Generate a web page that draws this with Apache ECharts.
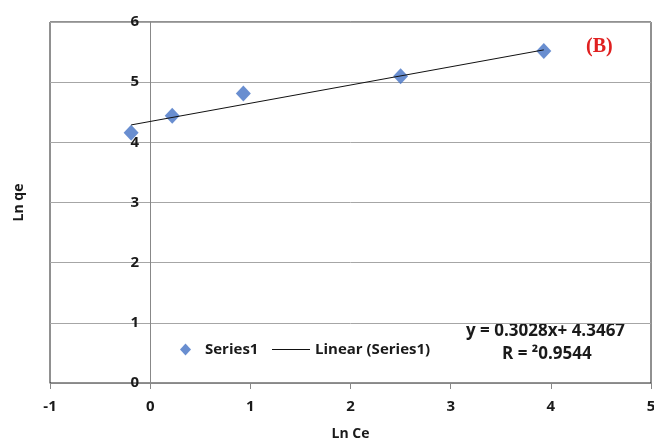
<!DOCTYPE html>
<html>
<head>
<meta charset="utf-8">
<script src="https://cdn.jsdelivr.net/npm/echarts@6/dist/echarts.min.js"></script>
<style>
html,body{margin:0;padding:0;background:#fff;}
#chart{width:654px;height:443px;}
</style>
</head>
<body>
<div id="chart"></div>
<script>
// Data
const lnCe = [-0.19, 0.22, 0.93, 2.50, 3.93];
const lnQe = [4.16, 4.44, 4.81, 5.10, 5.52];
const xTicks = [-1, 0, 1, 2, 3, 4, 5];
const yTicks = [0, 1, 2, 3, 4, 5, 6];
const trendSlope = 0.3028;
const trendIntercept = 4.3467;
const rSquared = '0.9544';

const points = lnCe.map((x, i) => [x, lnQe[i]]);
const xMinD = Math.min(...lnCe), xMaxD = Math.max(...lnCe);
const trend = [[xMinD, trendSlope * xMinD + trendIntercept], [xMaxD, trendSlope * xMaxD + trendIntercept]];

const FONT = '"Open Sans", "Liberation Sans", sans-serif';
const chart = echarts.init(document.getElementById('chart'));
chart.setOption({
  animation: false,
  backgroundColor: '#fff',
  grid: { left: 50, right: 3, top: 22, bottom: 60, containLabel: false, outerBoundsMode: 'none',
          show: true, borderColor: '#222', borderWidth: 1 },
  xAxis: {
    type: 'value', min: xTicks[0], max: xTicks[xTicks.length - 1], interval: 1,
    name: 'Ln Ce', nameLocation: 'middle', nameGap: 44,
    nameTextStyle: { fontFamily: FONT, fontWeight: 'bold', fontSize: 14, color: '#1a1a1a' },
    axisLine: { onZero: false, lineStyle: { color: '#888', width: 1 } },
    axisTick: { show: true, length: 6, lineStyle: { color: '#888' } },
    axisLabel: { fontFamily: FONT, fontWeight: 'bold', fontSize: 15, color: '#1a1a1a', margin: 16 },
    splitLine: { show: false }
  },
  yAxis: {
    type: 'value', min: yTicks[0], max: yTicks[yTicks.length - 1], interval: 1,
    name: 'Ln qe', nameLocation: 'middle', nameGap: 24, nameRotate: 90,
    nameTextStyle: { fontFamily: FONT, fontWeight: 'bold', fontSize: 14, color: '#1a1a1a' },
    axisLine: { show: true, onZero: true, lineStyle: { color: '#888', width: 1 } },
    axisTick: { show: false },
    axisLabel: { fontFamily: FONT, fontWeight: 'bold', fontSize: 15, color: '#1a1a1a', margin: -89 },
    splitLine: { show: true, lineStyle: { color: '#a6a6a6', width: 1 } }
  },
  legend: [
    {
      left: 180, top: 342, padding: 0, itemWidth: 11, itemHeight: 12, itemGap: 8,
      textStyle: { fontFamily: FONT, fontWeight: 'bold', fontSize: 15, color: '#1a1a1a', padding: [0, 0, 0, 9] },
      data: [{ name: 'Series1', icon: 'diamond', itemStyle: { color: '#4472c4' } }]
    },
    {
      left: 272, top: 342, padding: 0, itemWidth: 38, itemHeight: 1, itemGap: 8,
      textStyle: { fontFamily: FONT, fontWeight: 'bold', fontSize: 15, color: '#1a1a1a' },
      data: [{ name: 'Linear (Series1)', icon: 'rect', itemStyle: { color: '#111' } }]
    }
  ],
  graphic: [
    { type: 'text', left: 466, top: 323, style: { text: 'y = 0.3028x+ 4.3467', font: 'bold 17px ' + FONT, fill: '#1a1a1a' } },
    { type: 'text', left: 502, top: 346, style: { text: 'R = ²' + rSquared, font: 'bold 17px ' + FONT, fill: '#1a1a1a' } },
    { type: 'text', left: 586, top: 37, style: { text: '(B)', font: 'bold 20px "Liberation Serif", "DejaVu Serif", serif', fill: '#e02020' } }
  ],
  series: [
    {
      name: 'Linear (Series1)', type: 'line', data: trend, symbol: 'none',
      lineStyle: { color: '#111', width: 1 }, itemStyle: { color: '#111' }, z: 3
    },
    {
      name: 'Series1', type: 'scatter', data: points, symbol: 'diamond', symbolSize: [15, 16],
      itemStyle: { color: '#4472c4' }, z: 2
    }
  ]
});
</script>
</body>
</html>
